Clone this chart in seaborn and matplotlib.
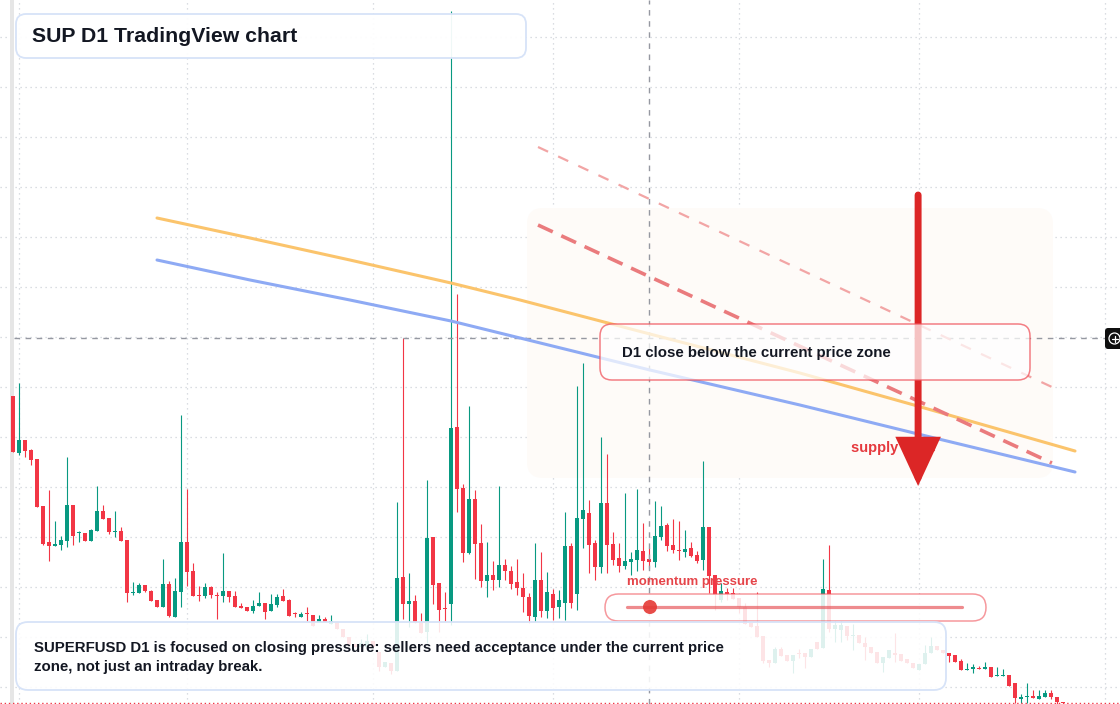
import numpy as np
import pandas as pd
import matplotlib
matplotlib.use("Agg")
import matplotlib.pyplot as plt
import seaborn as sns
from matplotlib.patches import FancyBboxPatch, Circle, Rectangle
from matplotlib.transforms import Affine2D

# daily candles, price in 1e-4 USD
opens = [324, 267, 280, 270, 261, 214, 178, 174, 175, 179,
         215, 187, 187, 179, 189, 209, 202, 188, 189, 180,
         127, 127, 135, 129, 120, 113, 136, 103, 128, 178,
         149, 125, 124, 133, 125, 124, 129, 124, 114, 113,
         109, 114, 117, 109, 115, 124, 120, 107, 103, 107,
         105, 98, 101, 96, 98, 91, 83, 76, 73, 73,
         79, 68, 53, 57, 49, 143, 116, 119, 98, 88,
         183, 137, 112, 116, 293, 232, 167, 221, 177, 139,
         145, 140, 155, 149, 138, 132, 123, 103, 140, 109,
         126, 113, 117, 174, 126, 201, 207, 177, 153, 217,
         176, 162, 154, 158, 160, 169, 161, 158, 183, 195,
         175, 170, 168, 172, 165, 160, 193, 145, 120, 128,
         127, 122, 113, 97, 94, 84, 60, 57, 71, 65,
         59, 67, 67, 63, 78, 72, 130, 91, 90, 94,
         84, 85, 77, 73, 68, 57, 62, 67, 66, 61,
         57, 50, 56, 67, 74, 70, 67, 65, 59, 50,
         51, 52, 51, 53, 44, 44, 45, 37, 21, 23,
         24, 21, 23, 27, 23, 18]
highs = [324, 337, 280, 271, 261, 214, 230, 199, 184, 263,
         215, 189, 187, 191, 234, 215, 202, 209, 193, 180,
         138, 137, 135, 130, 120, 161, 139, 142, 305, 231,
         157, 134, 137, 134, 128, 167, 129, 129, 117, 113,
         120, 128, 117, 126, 126, 131, 121, 108, 108, 113,
         105, 105, 103, 105, 98, 91, 83, 76, 81, 86,
         79, 68, 58, 57, 218, 382, 147, 125, 107, 240,
         183, 137, 128, 709, 426, 236, 314, 230, 196, 178,
         159, 234, 161, 154, 161, 147, 127, 177, 168, 148,
         131, 130, 208, 177, 334, 357, 220, 180, 283, 266,
         188, 177, 227, 168, 231, 197, 172, 219, 214, 197,
         201, 199, 190, 178, 169, 259, 193, 145, 137, 132,
         132, 122, 117, 97, 128, 84, 60, 73, 73, 65,
         65, 71, 67, 71, 78, 161, 175, 99, 99, 94,
         96, 85, 83, 73, 68, 63, 70, 87, 66, 61,
         57, 56, 75, 83, 74, 70, 67, 65, 61, 57,
         56, 54, 58, 53, 53, 51, 45, 37, 26, 37,
         30, 30, 30, 30, 23, 18]
lows = [268, 265, 263, 255, 213, 175, 159, 174, 170, 173,
        175, 178, 179, 179, 189, 201, 186, 183, 179, 118,
        125, 127, 128, 119, 113, 113, 103, 103, 113, 134,
        124, 119, 122, 122, 101, 118, 118, 113, 112, 109,
        107, 114, 101, 109, 113, 119, 104, 103, 103, 99,
        94, 98, 98, 96, 91, 83, 75, 73, 73, 73,
        73, 49, 53, 46, 49, 101, 93, 97, 87, 77,
        116, 88, 99, 95, 208, 158, 166, 141, 133, 123,
        130, 133, 140, 131, 125, 108, 97, 98, 103, 102,
        100, 102, 100, 112, 110, 172, 147, 140, 147, 147,
        155, 148, 151, 145, 149, 150, 152, 153, 180, 169,
        167, 160, 163, 163, 157, 150, 127, 110, 118, 120,
        121, 107, 96, 93, 83, 57, 53, 57, 64, 59,
        47, 62, 52, 63, 71, 72, 88, 78, 78, 80,
        70, 77, 60, 67, 57, 48, 62, 58, 59, 57,
        52, 50, 56, 67, 70, 67, 58, 58, 50, 50,
        47, 51, 51, 43, 44, 44, 34, 17, 17, 17,
        22, 21, 23, 21, 15, 15]
closes = [268, 280, 269, 260, 213, 176, 174, 176, 180, 215,
          184, 188, 179, 190, 209, 201, 188, 189, 179, 127,
          128, 135, 129, 119, 113, 136, 104, 129, 178, 148,
          124, 124, 133, 125, 124, 129, 123, 113, 112, 109,
          114, 117, 108, 116, 123, 119, 104, 106, 106, 106,
          94, 101, 98, 99, 91, 83, 75, 73, 77, 79,
          73, 53, 58, 49, 142, 116, 119, 97, 87, 182,
          135, 110, 111, 292, 231, 167, 221, 176, 139, 145,
          140, 155, 149, 136, 132, 123, 104, 140, 109, 128,
          112, 120, 174, 117, 202, 210, 175, 153, 217, 175,
          160, 154, 159, 161, 170, 159, 158, 184, 194, 174,
          170, 169, 171, 164, 159, 193, 144, 125, 129, 126,
          121, 113, 96, 93, 83, 59, 57, 71, 64, 59,
          65, 66, 63, 71, 71, 131, 91, 95, 95, 84,
          85, 77, 73, 67, 57, 63, 70, 65, 59, 57,
          52, 56, 67, 74, 70, 67, 64, 58, 50, 51,
          53, 51, 53, 43, 45, 45, 34, 22, 23, 24,
          22, 24, 27, 23, 18, 17]

month_starts = [1, 29, 60, 90, 121, 151, 182]
price_grid = [683, 633, 583, 533, 483, 433, 383, 333, 283, 233, 183, 133, 83, 33]

# moving averages (sampled vertices)
ma_x = [23.95, 39.45, 56.1, 72.95, 84.45, 106.1, 131.1, 150.1, 176.95]
ma_fast = [502, 482, 460, 437, 420, 386, 347, 315, 269]
ma_slow = [460, 440, 420, 399, 382, 350, 315, 287, 248]

# supply trend lines
trend_x = [87.45, 173.1]
trend_main = [495, 257]
trend_upper = [573, 333]

cross_idx = 106
arrow_idx = 150.8
arrow_top, arrow_tip = 525, 234

GREEN = "#089981"
RED = "#f23645"
INK = "#131722"

sns.set_theme(style="white")
plt.rcParams["font.family"] = ["Liberation Sans", "DejaVu Sans"]

W, H = 1120, 704
fig = plt.figure(figsize=(W / 100, H / 100), dpi=100)
ax = fig.add_axes([0, 0, 1, 1])
ax.set_xlim(-2.22, 184.45)
ax.set_ylim(16, 720)
ax.set_axis_off()
fig.patch.set_facecolor("white")

# pixel transform (origin top-left)
px = Affine2D().scale(1 / W, -1 / H).translate(0, 1) + ax.transAxes

# grid
for m in month_starts:
    ax.axvline(m, color="#cfd2d9", lw=0.9, ls=(0, (1, 3)), zorder=0.5)
for p in price_grid:
    ax.axhline(p, color="#cfd2d9", lw=0.9, ls=(0, (1, 3)), zorder=0.5)
ax.add_patch(Rectangle((10, 0), 4, H, transform=px, fc="#e6e6e6", ec="none", zorder=0.6))

# supply zone
ax.add_patch(FancyBboxPatch((527, 208), 526, 270, boxstyle="round,pad=0,rounding_size=16",
                            transform=px, fc="#fefbf8", ec="none", zorder=1))

# candles
df = pd.DataFrame({"o": opens, "h": highs, "l": lows, "c": closes})
df["i"] = np.arange(len(df))
cols = np.where(df["c"] >= df["o"], GREEN, RED)
ax.vlines(df["i"], df["l"], df["h"], colors=cols, lw=0.8, zorder=2)
body_low = np.minimum(df["o"], df["c"])
body_h = np.maximum((df["c"] - df["o"]).abs(), 0.9)
ax.bar(df["i"], body_h, bottom=body_low, width=0.72, color=cols, linewidth=0, zorder=2.1)

# last price
ax.axhline(closes[-1], color=RED, lw=1, ls=(0, (1, 2)), zorder=2.2)

# crosshair
ax.axvline(cross_idx, color="#9598a1", lw=1, ls=(0, (4, 4)), zorder=2.3)
ax.plot([14, 1105], [338, 338], transform=px, color="#9598a1", lw=1, ls=(0, (4, 4)), zorder=2.3)

# moving averages
ma = pd.DataFrame({"x": ma_x, "fast": ma_fast, "slow": ma_slow})
sns.lineplot(data=ma, x="x", y="fast", ax=ax, color="#fbc46c", lw=2.2, sort=False, zorder=3)
sns.lineplot(data=ma, x="x", y="slow", ax=ax, color="#8eaaf4", lw=2.2, sort=False, zorder=3)
ax.set_axis_off()

# trend lines
ax.plot(trend_x, trend_upper, color="#f2a5a5", lw=1.6, ls=(0, (5, 5)), zorder=3.1)
ax.plot(trend_x, trend_main, color="#ea7b7d", lw=2.6, ls=(0, (4.5, 2.6)), zorder=3.1)

# supply label + arrow
ax.text(851, 448, "supply zone", transform=px, color="#e5393e", fontsize=10.5,
        fontweight="bold", va="center", ha="left", zorder=4)
ax.annotate("", xy=(arrow_idx, arrow_tip), xytext=(arrow_idx, arrow_top),
            arrowprops=dict(arrowstyle="-|>,head_length=2.7,head_width=1.25", mutation_scale=10,
                            lw=5, color="#dc2626", shrinkA=0, shrinkB=0,
                            capstyle="round", joinstyle="miter"),
            zorder=5)

# D1 box
ax.add_patch(FancyBboxPatch((600, 324), 430, 56, boxstyle="round,pad=0,rounding_size=12",
                            transform=px, fc=(1, 1, 1, 0.72), ec=(0.94, 0.33, 0.36, 0.75),
                            lw=1.1, zorder=6))
ax.text(622, 353, "D1 close below the current price zone", transform=px, color=INK,
        fontsize=10.8, fontweight="bold", va="center", zorder=7)

# momentum pressure
ax.text(627, 582, "momentum pressure", transform=px, color="#e5454a", fontsize=9.5,
        fontweight="bold", va="center", zorder=7)
ax.add_patch(FancyBboxPatch((605, 594), 381, 27, boxstyle="round,pad=0,rounding_size=13.5",
                            transform=px, fc=(1, 1, 1, 0.86), ec=(0.94, 0.33, 0.36, 0.6),
                            lw=1.1, zorder=6))
ax.plot([627, 962], [607, 607], transform=px, color=(0.9, 0.3, 0.32, 0.65), lw=2.3, zorder=6.5)
ax.add_patch(Circle((650, 607), 7, transform=px, fc="#e53935", ec="none", alpha=0.9, zorder=6.6))

# bottom note
ax.add_patch(FancyBboxPatch((16, 622), 930, 68, boxstyle="round,pad=0,rounding_size=12",
                            transform=px, fc=(1, 1, 1, 0.87), ec="#d7e3f8", lw=1.3, zorder=6))
ax.text(34, 648, "SUPERFUSD D1 is focused on closing pressure: sellers need acceptance under the current price",
        transform=px, color=INK, fontsize=10.8, fontweight="bold", va="center", zorder=7)
ax.text(34, 667, "zone, not just an intraday break.", transform=px, color=INK, fontsize=10.8,
        fontweight="bold", va="center", zorder=7)

# title
ax.add_patch(FancyBboxPatch((16, 14), 510, 44, boxstyle="round,pad=0,rounding_size=10",
                            transform=px, fc=(1, 1, 1, 0.94), ec="#d7e3f8", lw=1.3, zorder=6))
ax.text(32, 36, "SUP D1 TradingView chart", transform=px, color=INK, fontsize=15.3,
        fontweight="bold", va="center", zorder=7)

# crosshair price button
ax.add_patch(FancyBboxPatch((1105, 328), 24, 21, boxstyle="round,pad=0,rounding_size=3",
                            transform=px, fc="#0f0f0f", ec="none", zorder=8))
ax.add_patch(Circle((1114.5, 338.5), 5.5, transform=px, fc="none", ec="white", lw=0.9, zorder=9))
ax.plot([1111.5, 1117.5], [338.5, 338.5], transform=px, color="white", lw=0.9, zorder=9)
ax.plot([1114.5, 1114.5], [335.5, 341.5], transform=px, color="white", lw=0.9, zorder=9)

fig.savefig("out.png", dpi=100)
plt.close(fig)
